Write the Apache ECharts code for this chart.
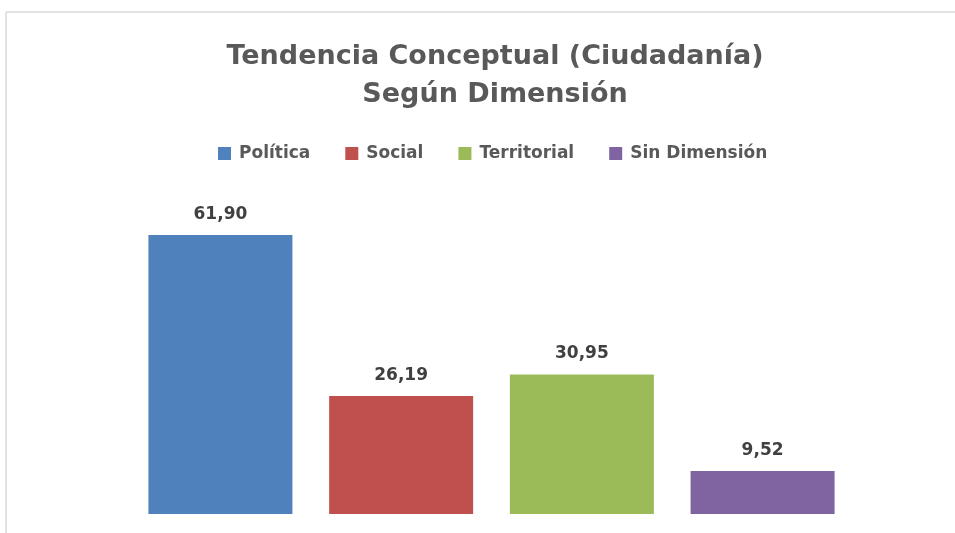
<!DOCTYPE html>
<html>
<head>
<meta charset="utf-8">
<script src="https://cdn.jsdelivr.net/npm/echarts@6/dist/echarts.min.js"></script>
<style>
  html, body { margin: 0; padding: 0; background: #fff; }
  #chart { width: 955px; height: 533px; }
</style>
</head>
<body>
<div id="chart"></div>
<script>
// data
const seriesNames = ['Política', 'Social', 'Territorial', 'Sin Dimensión'];
const seriesValues = [61.90, 26.19, 30.95, 9.52];
const seriesColors = ['#4F81BD', '#C0504D', '#9BBB59', '#8064A2'];

const chart = echarts.init(document.getElementById('chart'));

const fontFam = '"DejaVu Sans", sans-serif';

const series = seriesNames.map((name, i) => ({
  name: name,
  type: 'bar',
  barWidth: 144,
  barGap: '25.5%',
  itemStyle: { color: seriesColors[i] },
  label: {
    show: true,
    position: 'top',
    distance: 12,
    color: '#404040',
    fontFamily: fontFam,
    fontWeight: 'bold',
    fontSize: 17,
    formatter: p => p.value.toFixed(2).replace('.', ',')
  },
  data: [seriesValues[i]]
}));

const option = {
  animation: false,
  backgroundColor: '#fff',
  title: {
    text: 'Tendencia Conceptual (Ciudadanía)\nSegún Dimensión',
    left: 490,
    textAlign: 'center',
    top: 33,
    textStyle: {
      color: '#595959',
      fontFamily: fontFam,
      fontWeight: 'bold',
      fontSize: 27,
      lineHeight: 38
    }
  },
  legend: {
    data: seriesNames,
    top: 140,
    left: 213,
    itemWidth: 13,
    itemHeight: 13,
    itemGap: 35,
    icon: 'rect',
    textStyle: {
      color: '#595959',
      fontFamily: fontFam,
      fontWeight: 'bold',
      fontSize: 17,
      padding: [0, 0, 0, 3]
    }
  },
  grid: { left: 100, right: 72, top: 198.5, bottom: 19 },
  xAxis: {
    type: 'category',
    data: [''],
    show: false
  },
  yAxis: {
    type: 'value',
    min: 0,
    max: 70,
    show: false
  },
  graphic: [
    { type: 'line', shape: { x1: 6, y1: 12, x2: 955, y2: 12 }, style: { stroke: '#d9d9d9', lineWidth: 1.5 } },
    { type: 'line', shape: { x1: 6, y1: 12, x2: 6, y2: 533 }, style: { stroke: '#d9d9d9', lineWidth: 1.5 } }
  ],
  series: series
};

chart.setOption(option);
</script>
</body>
</html>
